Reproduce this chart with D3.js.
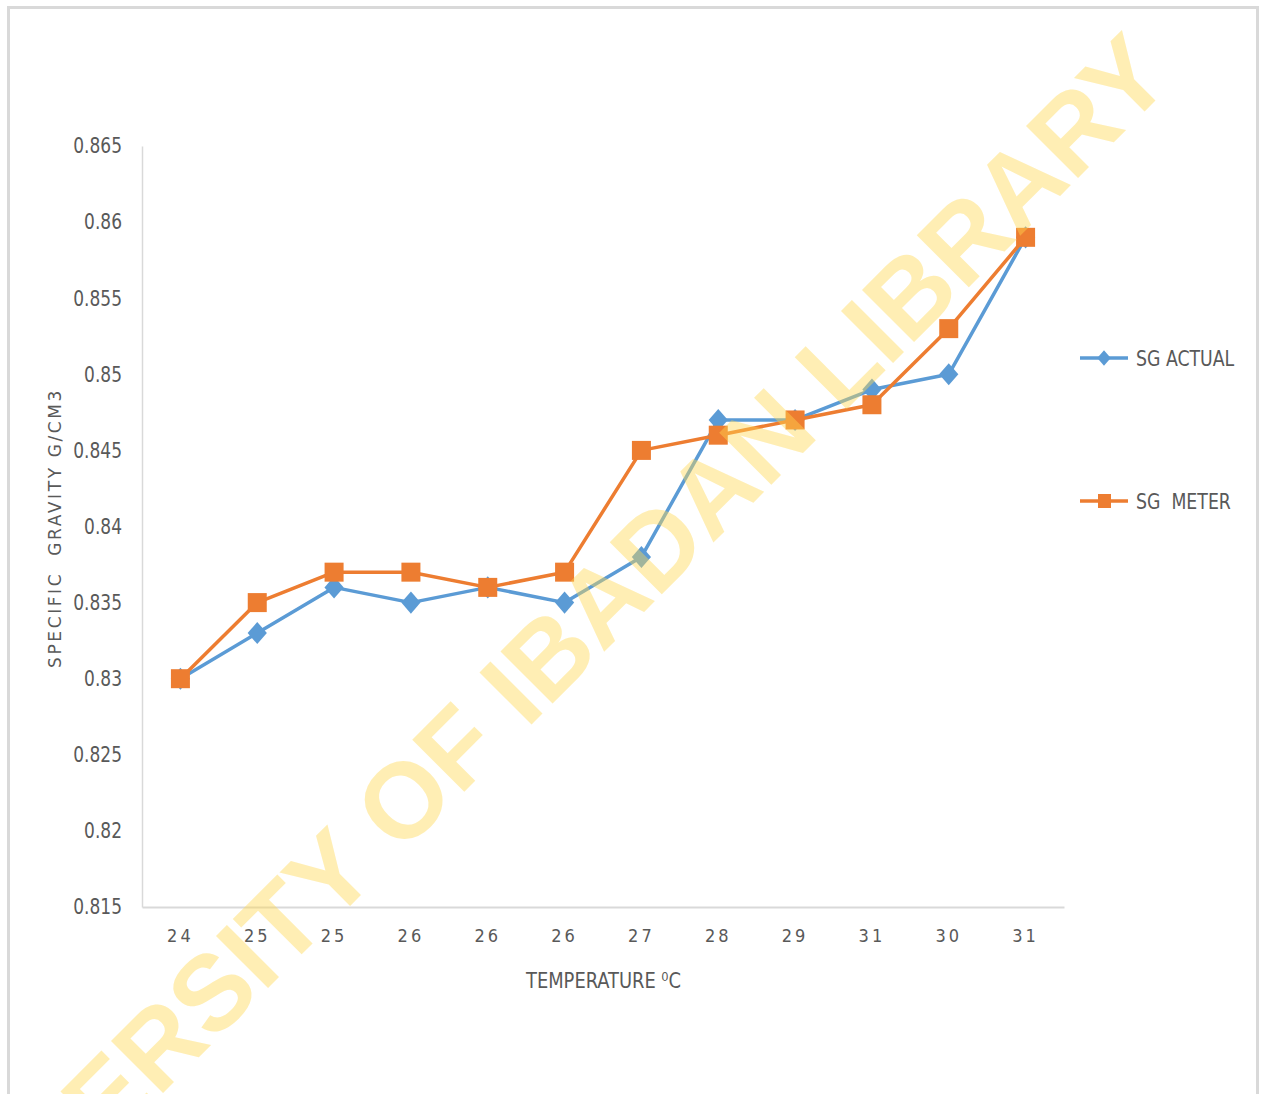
<!DOCTYPE html>
<html>
<head>
<meta charset="utf-8">
<script src="https://cdn.jsdelivr.net/npm/d3@7"></script>
<style>
  html, body { margin: 0; padding: 0; background: #fff; }
  svg { display: block; }
</style>
</head>
<body>
<svg id="chart" width="1264" height="1094"></svg>
<script>
// ---- data ----
const categories = ["24", "25", "25", "26", "26", "26", "27", "28", "29", "31", "30", "31"];
const sgActual = [0.830, 0.833, 0.836, 0.835, 0.836, 0.835, 0.838, 0.847, 0.847, 0.849, 0.850, 0.859];
const sgMeter  = [0.830, 0.835, 0.837, 0.837, 0.836, 0.837, 0.845, 0.846, 0.847, 0.848, 0.853, 0.859];
const yTicks = [0.815, 0.82, 0.825, 0.83, 0.835, 0.84, 0.845, 0.85, 0.855, 0.86, 0.865];
const seriesNames = ["SG ACTUAL", "SG  METER"];

const svg = d3.select("#chart");
const plot = { left: 142, right: 1064, top: 146, bottom: 907 };
const txt = "#595959";
const narrow = "'DejaVu Sans Condensed', 'Liberation Sans', sans-serif";

// frame
svg.append("rect").attr("x", 8.5).attr("y", 7.5).attr("width", 1249).attr("height", 1100)
  .attr("fill", "#fff").attr("stroke", "#d9d9d9").attr("stroke-width", 3);

const x = d3.scaleBand().domain(d3.range(categories.length)).range([plot.left, plot.right]);
const xc = i => x(i) + x.bandwidth() / 2;
const y = d3.scaleLinear().domain([0.815, 0.865]).range([plot.bottom, plot.top]);

// y axis
const yAxis = d3.axisLeft(y).tickValues(yTicks).tickSize(0).tickPadding(20)
  .tickFormat(d => d3.format("")(+d.toFixed(3)));
const gy = svg.append("g").attr("transform", `translate(${plot.left},0)`).call(yAxis);
gy.select(".domain").attr("stroke", "#d9d9d9").attr("stroke-width", 1.5);
gy.selectAll("text").attr("fill", txt).attr("font-family", narrow).attr("font-size", 21.5)
  .attr("textLength", function () { return this.getComputedTextLength() * 0.88; })
  .attr("lengthAdjust", "spacingAndGlyphs");

// x axis
const xAxis = d3.axisBottom(x).tickSize(0).tickPadding(22).tickFormat(i => categories[i]);
const gx = svg.append("g").attr("transform", `translate(0,${plot.bottom})`).call(xAxis);
gx.select(".domain").attr("stroke", "#d9d9d9").attr("stroke-width", 2);
gx.selectAll("text").attr("fill", txt).attr("font-family", "'DejaVu Sans Condensed', 'DejaVu Sans', sans-serif")
  .attr("font-size", 18).attr("letter-spacing", 3);

// axis titles
svg.append("text").attr("x", 526).attr("y", 988).attr("fill", txt).attr("font-family", narrow)
  .attr("font-size", 22).attr("textLength", 155).attr("lengthAdjust", "spacingAndGlyphs")
  .text("TEMPERATURE \u2070C");

svg.append("text").attr("transform", "translate(61,528) rotate(-90)").attr("text-anchor", "middle")
  .attr("fill", txt).attr("font-family", "'DejaVu Sans', sans-serif").attr("font-size", 17)
  .attr("letter-spacing", 2.6).attr("xml:space", "preserve").text("SPECIFIC  GRAVITY G/CM3");

// lines
const colors = ["#5B9BD5", "#ED7D31"];
const line = d3.line().x((d, i) => xc(i)).y(d => y(d));

function drawSeries(vals, idx) {
  svg.append("path").datum(vals).attr("d", line).attr("fill", "none")
    .attr("stroke", colors[idx]).attr("stroke-width", 3.5).attr("stroke-linejoin", "round");
  const g = svg.append("g");
  if (idx === 0) {
    g.selectAll("path").data(vals).join("path")
      .attr("transform", (d, i) => `translate(${xc(i)},${y(d)}) scale(1,1.15) rotate(45)`)
      .attr("d", d3.symbol().type(d3.symbolSquare).size(185)).attr("fill", colors[0]);
  } else {
    g.selectAll("rect").data(vals).join("rect")
      .attr("x", (d, i) => xc(i) - 9.5).attr("y", d => y(d) - 9.5)
      .attr("width", 19).attr("height", 19).attr("fill", colors[1]);
  }
}
drawSeries(sgActual, 0);
drawSeries(sgMeter, 1);

// legend
const legY = [358, 501];
seriesNames.forEach((name, idx) => {
  const g = svg.append("g").attr("transform", `translate(0,${legY[idx]})`);
  g.append("line").attr("x1", 1080).attr("x2", 1128).attr("y1", 0).attr("y2", 0)
    .attr("stroke", colors[idx]).attr("stroke-width", 3.5);
  if (idx === 0) {
    g.append("path").attr("transform", "translate(1104,0) scale(1,1.15) rotate(45)")
      .attr("d", d3.symbol().type(d3.symbolSquare).size(90)).attr("fill", colors[0]);
  } else {
    g.append("rect").attr("x", 1098).attr("y", -7).attr("width", 13).attr("height", 14).attr("fill", colors[1]);
  }
  const t = g.append("text").attr("x", 1136).attr("y", 8).attr("fill", txt).attr("font-family", narrow)
    .attr("font-size", 22).attr("xml:space", "preserve").text(name);
  t.attr("textLength", t.node().getComputedTextLength() * 0.875).attr("lengthAdjust", "spacingAndGlyphs");
});

// watermark
svg.append("text").attr("transform", "translate(551,705) rotate(-45)").attr("text-anchor", "middle")
  .attr("font-family", "'Liberation Sans', Arial, sans-serif").attr("font-weight", "bold")
  .attr("font-size", 107).attr("fill", "#FFD750").attr("fill-opacity", 0.43)
  .text("UNIVERSITY OF IBADAN LIBRARY");
</script>
</body>
</html>
